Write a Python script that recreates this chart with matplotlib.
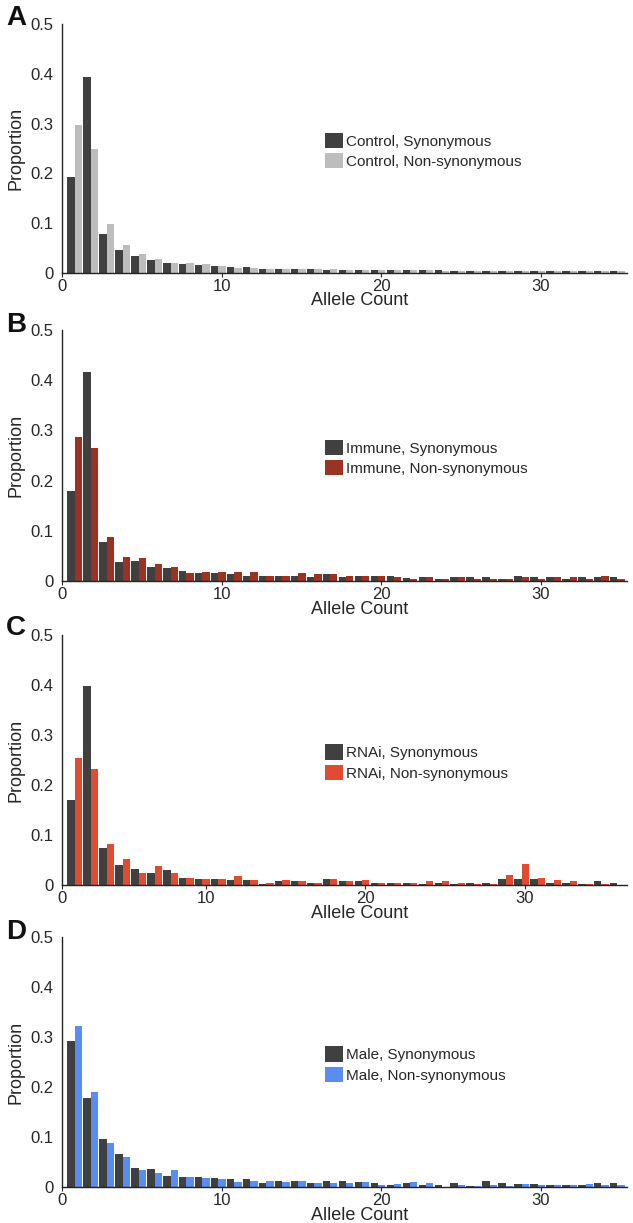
import numpy as np
import matplotlib
matplotlib.use("Agg")
import matplotlib.pyplot as plt
from matplotlib.patches import Patch

plt.rcParams["font.family"] = ["Liberation Sans", "DejaVu Sans"]

# allele counts 1..35
counts = np.arange(1, 36)

control_syn = [0.193, 0.393, 0.079, 0.047, 0.034, 0.026, 0.021, 0.019, 0.016, 0.015,
               0.012, 0.012, 0.009, 0.009, 0.009, 0.009, 0.007, 0.007, 0.007, 0.007,
               0.007, 0.007, 0.006, 0.006, 0.005, 0.005, 0.005, 0.005, 0.005, 0.005,
               0.005, 0.005, 0.005, 0.005, 0.005]
control_non = [0.297, 0.250, 0.099, 0.057, 0.039, 0.029, 0.021, 0.021, 0.018, 0.015,
               0.011, 0.011, 0.009, 0.009, 0.009, 0.009, 0.008, 0.007, 0.007, 0.007,
               0.007, 0.007, 0.006, 0.005, 0.005, 0.005, 0.005, 0.005, 0.005, 0.005,
               0.005, 0.005, 0.005, 0.005, 0.004]

immune_syn = [0.180, 0.417, 0.077, 0.037, 0.040, 0.028, 0.025, 0.020, 0.015, 0.015,
              0.013, 0.010, 0.009, 0.009, 0.009, 0.007, 0.013, 0.008, 0.010, 0.010,
              0.010, 0.006, 0.008, 0.004, 0.007, 0.007, 0.007, 0.004, 0.010, 0.007,
              0.007, 0.004, 0.007, 0.007, 0.007]
immune_non = [0.287, 0.265, 0.087, 0.048, 0.045, 0.033, 0.028, 0.015, 0.018, 0.018,
              0.018, 0.018, 0.009, 0.009, 0.016, 0.013, 0.013, 0.009, 0.010, 0.010,
              0.007, 0.004, 0.007, 0.004, 0.007, 0.004, 0.004, 0.004, 0.007, 0.004,
              0.007, 0.007, 0.004, 0.009, 0.004]

rnai_syn = [0.170, 0.399, 0.075, 0.040, 0.033, 0.025, 0.030, 0.015, 0.013, 0.012,
            0.010, 0.010, 0.003, 0.008, 0.008, 0.005, 0.012, 0.008, 0.008, 0.005,
            0.005, 0.005, 0.002, 0.005, 0.002, 0.005, 0.005, 0.012, 0.012, 0.012,
            0.005, 0.005, 0.002, 0.008, 0.005]
rnai_non = [0.255, 0.232, 0.083, 0.053, 0.025, 0.038, 0.025, 0.015, 0.013, 0.012,
            0.018, 0.010, 0.005, 0.010, 0.008, 0.005, 0.012, 0.008, 0.010, 0.005,
            0.005, 0.005, 0.008, 0.008, 0.005, 0.002, 0.002, 0.020, 0.043, 0.015,
            0.010, 0.008, 0.002, 0.002, 0.000]

male_syn = [0.293, 0.178, 0.096, 0.066, 0.038, 0.036, 0.022, 0.020, 0.020, 0.018,
            0.016, 0.016, 0.008, 0.013, 0.013, 0.008, 0.013, 0.013, 0.010, 0.008,
            0.005, 0.008, 0.005, 0.005, 0.008, 0.003, 0.013, 0.008, 0.007, 0.007,
            0.005, 0.005, 0.005, 0.008, 0.008]
male_non = [0.322, 0.190, 0.088, 0.060, 0.035, 0.028, 0.035, 0.020, 0.018, 0.016,
            0.010, 0.013, 0.013, 0.010, 0.013, 0.008, 0.008, 0.008, 0.010, 0.005,
            0.007, 0.010, 0.008, 0.001, 0.005, 0.003, 0.005, 0.003, 0.007, 0.005,
            0.005, 0.005, 0.007, 0.005, 0.005]

panels = [
    ("A", "Control", control_syn, control_non, "#bdbdbd", 0),
    ("B", "Immune", immune_syn, immune_non, "#9b3322", 0),
    ("C", "RNAi", rnai_syn, rnai_non, "#e14b31", -1),   # tick labels sit one bin left in C
    ("D", "Male", male_syn, male_non, "#5b8cf2", 0),
]
dark = "#404040"
txt = "#262626"

W, H = 633, 1223
fig = plt.figure(figsize=(W / 100, H / 100), dpi=100)

# (axes top px, axes bottom px, letter y px)
boxes = [(24, 273, 18), (330, 581, 325), (635, 885, 628), (937, 1187, 932)]
left_px, right_px = 62, 627

for (letter, name, syn, non, col, shift), (top, bot, ly) in zip(panels, boxes):
    ax = fig.add_axes([left_px / W, 1 - bot / H, (right_px - left_px) / W, (bot - top) / H])
    ax.bar(counts - 0.66, syn, width=0.46, align="edge", color=dark, linewidth=0)
    ax.bar(counts - 0.20, non, width=0.46, align="edge", color=col, linewidth=0)
    ax.set_xlim(0, 35.4)
    ax.set_ylim(0, 0.5)
    for s in ["top", "right"]:
        ax.spines[s].set_visible(False)
    for s in ["left", "bottom"]:
        ax.spines[s].set_color("#222222")
        ax.spines[s].set_linewidth(1.0)
    ax.set_yticks([0, 0.1, 0.2, 0.3, 0.4, 0.5])
    ax.set_yticklabels(["0", "0.1", "0.2", "0.3", "0.4", "0.5"])
    xt = [0] + [v + shift for v in (10, 20, 30)]
    ax.set_xticks(xt)
    ax.set_xticklabels(["0", "10", "20", "30"])
    ax.tick_params(axis="y", length=0, pad=6, labelsize=12, colors=txt)
    ax.tick_params(axis="x", length=3, width=0.8, pad=1, labelsize=12, colors=txt)
    ax.set_ylabel("Proportion", fontsize=13, color=txt)
    ax.yaxis.set_label_coords(-0.067, 0.5)
    ax.set_xlabel("Allele Count", fontsize=13, color=txt)
    ax.xaxis.set_label_coords(0.527, -0.078)

    handles = [Patch(facecolor=dark, edgecolor="none"), Patch(facecolor=col, edgecolor="none")]
    ax.legend(handles, [name + ", Synonymous", name + ", Non-synonymous"],
              loc="center left", bbox_to_anchor=(0.455, 0.49), frameon=False,
              fontsize=11, handlelength=1.15, handleheight=1.15, handletextpad=0.2,
              labelspacing=0.3, borderaxespad=0, labelcolor=txt)

    fig.text(6 / W, 1 - ly / H, letter, fontsize=20, fontweight="bold",
             ha="left", va="center", color="#111111")

fig.savefig("out.png", dpi=100)
